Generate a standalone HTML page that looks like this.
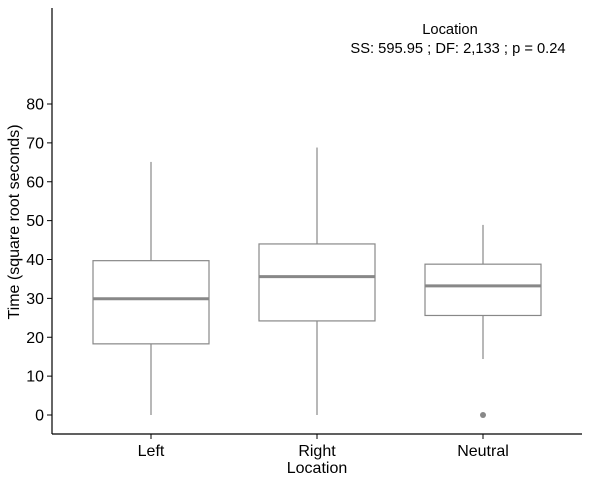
<!DOCTYPE html>
<html><head><meta charset="utf-8"><style>body{margin:0;background:#fff}svg{display:block;font-family:"Liberation Sans",Arial,sans-serif}</style></head>
<body>
<svg id="chart" width="591" height="484"></svg>
<script>
const categories=["Left","Right","Neutral"];
const whiskerLow=[0,0,14.4];
const q1=[18.3,24.2,25.6];
const medians=[29.9,35.6,33.2];
const q3=[39.7,44,38.8];
const whiskerHigh=[65.1,68.8,48.9];
const outliers=[[],[],[0]];
const yTicks=[0,10,20,30,40,50,60,70,80];
const NS="http://www.w3.org/2000/svg";
const svg=document.getElementById("chart");
const y=v=>415-v*3.8875;
const x=i=>151+i*166;
function mk(t,a,parent){const e=document.createElementNS(NS,t);for(const k in a)e.setAttribute(k,a[k]);(parent||svg).appendChild(e);return e;}
let e;
e=mk("line",{x1:52,y1:8,x2:52,y2:434,stroke:"#000","stroke-width":1.2});


e=mk("line",{x1:52,y1:434,x2:582,y2:434,stroke:"#000","stroke-width":1.2});


yTicks.forEach(t=>{
 e=mk("line",{x1:47,x2:52,y1:y(t),y2:y(t),stroke:"#000"});
 
 
 e=mk("text",{x:44,y:y(t)+5.5,"text-anchor":"end","font-size":16,fill:"#000"});e.textContent=t;
 
 
});
categories.forEach((c,i)=>{
 const cx=x(i),hw=58,col="#888";
 e=mk("line",{x1:cx,x2:cx,y1:y(whiskerHigh[i]),y2:y(q3[i]),stroke:col,"stroke-width":1.2});
 
 
 e=mk("line",{x1:cx,x2:cx,y1:y(q1[i]),y2:y(whiskerLow[i]),stroke:col,"stroke-width":1.2});
 
 
 e=mk("rect",{x:cx-hw,y:y(q3[i]),width:hw*2,height:y(q1[i])-y(q3[i]),fill:"#fff",stroke:col,"stroke-width":1.2});
 
 
 e=mk("line",{x1:cx-hw,x2:cx+hw,y1:y(medians[i]),y2:y(medians[i]),stroke:col,"stroke-width":3});
 
 
 outliers[i].forEach(o=>{
  e=mk("circle",{cx:cx,cy:y(o),r:3,fill:col});
  
  
 });
 e=mk("line",{x1:cx,x2:cx,y1:434,y2:439,stroke:"#000"});
 
 
 e=mk("text",{x:cx,y:456,"text-anchor":"middle","font-size":16,fill:"#000"});e.textContent=c;
 
 
});
e=mk("text",{x:317,y:473,"text-anchor":"middle","font-size":16,fill:"#000"});e.textContent="Location";


e=mk("text",{x:0,y:0,"text-anchor":"middle","font-size":16,fill:"#000",transform:"translate(19,222) rotate(-90)"});e.textContent="Time (square root seconds)";


e=mk("text",{x:450,y:34,"text-anchor":"middle","font-size":14.7,fill:"#000"});e.textContent="Location";


e=mk("text",{x:458,y:53,"text-anchor":"middle","font-size":14.7,fill:"#000"});e.textContent="SS: 595.95 ; DF: 2,133 ; p = 0.24";


</script>
</body></html>
